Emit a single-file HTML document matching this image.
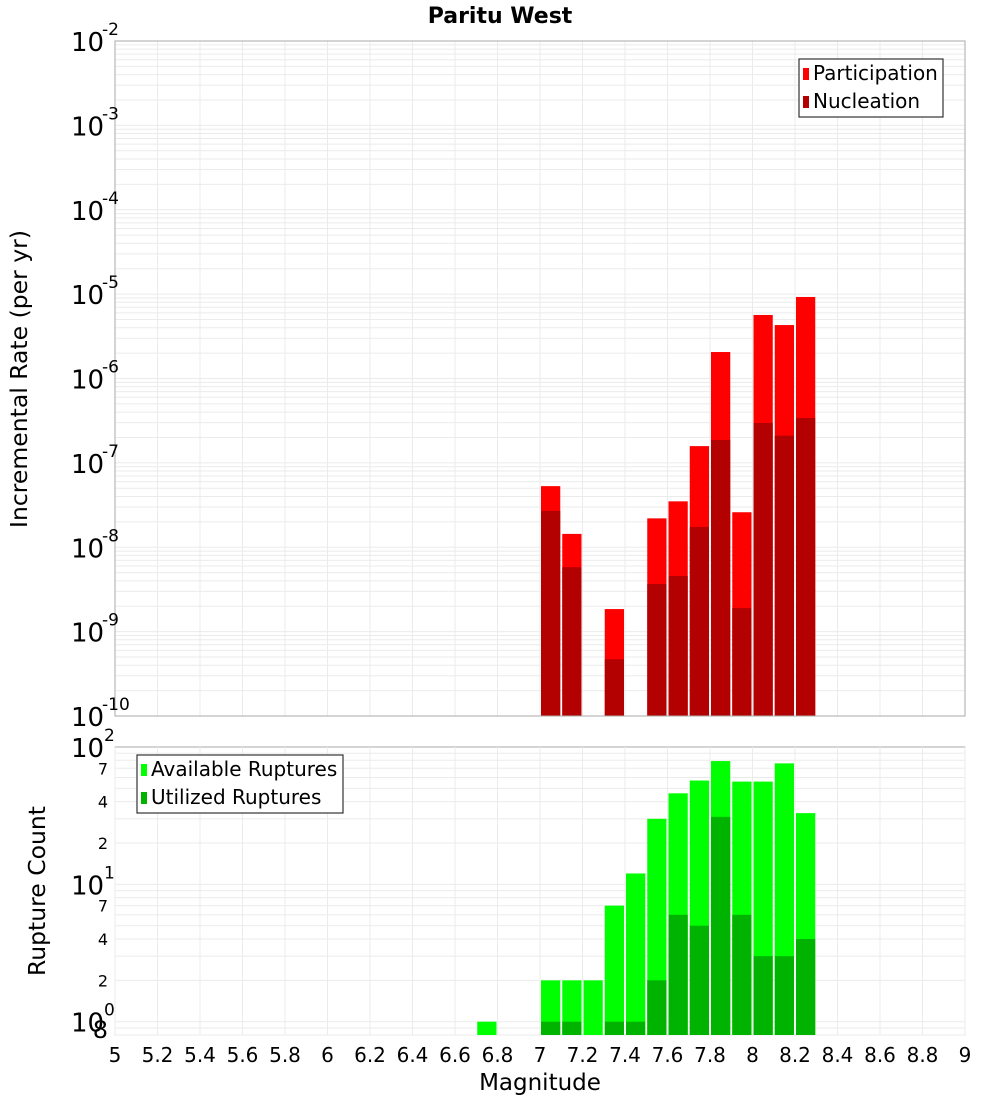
<!DOCTYPE html>
<html><head><meta charset="utf-8"><style>
body{margin:0;background:#fff;}
svg text{font-family:"DejaVu Sans","Liberation Sans",sans-serif;}
</style></head><body>
<svg id="c" width="1000" height="1100" xmlns="http://www.w3.org/2000/svg">
<text x="500" y="23" text-anchor="middle" font-size="22" font-weight="bold">Paritu West</text>
<g id="gtop"></g><g id="gbot"></g>
<text transform="translate(27,379) rotate(-90)" text-anchor="middle" font-size="23.5">Incremental Rate (per yr)</text>
<text transform="translate(45,891) rotate(-90)" text-anchor="middle" font-size="23.5">Rupture Count</text>
<text x="540" y="1090" text-anchor="middle" font-size="23">Magnitude</text>
</svg>
<script>
const mags=[7.0,7.1,7.2,7.3,7.4,7.5,7.6,7.7,7.8,7.9,8.0,8.1,8.2];
const participation=[5.3e-8,1.44e-8,0,1.85e-9,0,2.2e-8,3.5e-8,1.58e-7,2.06e-6,2.6e-8,5.66e-6,4.3e-6,9.25e-6];
const nucleation=[2.7e-8,5.8e-9,0,4.7e-10,0,3.66e-9,4.56e-9,1.74e-8,1.87e-7,1.9e-9,2.97e-7,2.1e-7,3.4e-7];
const countMags=[6.7,7.0,7.1,7.2,7.3,7.4,7.5,7.6,7.7,7.8,7.9,8.0,8.1,8.2];
const available=[1,2,2,2,7,12,30,46,57,79,56,56,76,33];
const utilized=[0,1,1,0,1,1,2,6,5,31,6,3,3,4];
const xTicks=["5","5.2","5.4","5.6","5.8","6","6.2","6.4","6.6","6.8","7","7.2","7.4","7.6","7.8","8","8.2","8.4","8.6","8.8","9"];
const NS="http://www.w3.org/2000/svg";
const L=115,R=965;
const xs=m=>L+(m-5)/4*(R-L);
const T1=41,B1=716,T2=747,B2=1035;
const y1=v=>T1+(-2-Math.log10(v))/8*(B1-T1);
const lmin=Math.log10(0.8);
const y2=v=>T2+(2-Math.log10(v))/(2-lmin)*(B2-T2);
function mk(p,t,a){const e=document.createElementNS(NS,t);for(const k in a)e.setAttribute(k,a[k]);p.appendChild(e);return e;}
const gTop=document.getElementById('gtop'),gBot=document.getElementById('gbot');
function grid(g,T,B,yf,dmin,dmax,minV){
 for(let d=dmin;d<dmax;d++)for(let k=1;k<10;k++){const v=k*Math.pow(10,d);if(v<minV)continue;const y=yf(v);if(y<T||y>B)continue;
  const l=mk(g,'line',{x1:L,x2:R,y1:y,y2:y,stroke:'#ebebeb','stroke-width':1});
  
  }
 xTicks.forEach(t=>{const x=xs(+t);const l=mk(g,'line',{x1:x,x2:x,y1:T,y2:B,stroke:'#ebebeb','stroke-width':1});
  
  });
}
grid(gTop,T1,B1,y1,-10,-2,0);
grid(gBot,T2,B2,y2,-1,2,0.8);
function bars(g,ms,vals,yf,B,color,name){
 ms.forEach((m,i)=>{if(!vals[i])return;const x0=xs(m)+1,x1=xs(m+0.1)-1;const y=yf(vals[i]);
  const r=mk(g,'rect',{x:x0,y:y,width:x1-x0,height:B-y,fill:color});
  
  });
}
bars(gTop,mags,participation,y1,B1,'#ff0000','participation-bar');
bars(gTop,mags,nucleation,y1,B1,'#b30000','nucleation-bar');
bars(gBot,countMags,available,y2,B2,'#00ff00','available-bar');
bars(gBot,countMags,utilized,y2,B2,'#00b300','utilized-bar');
[[T1,B1],[T2,B2]].forEach(([T,B])=>{const r=mk(gTop,'rect',{x:L,y:T,width:R-L,height:B-T,fill:'none',stroke:'#aaa'});
 
 });
for(let d=-2;d>=-10;d--){const y=y1(Math.pow(10,d));
 const t=mk(gTop,'text',{x:71,y:y+10,'font-size':26});t.textContent='10';
 
 
 const s=mk(gTop,'text',{x:102,y:y-6,'font-size':17});s.textContent=String(d);
 
 }
[2,1,0].forEach(d=>{const y=y2(Math.pow(10,d));
 const t=mk(gBot,'text',{x:71,y:y+10,'font-size':26});t.textContent='10';
 
 
 const s=mk(gBot,'text',{x:104,y:y-6,'font-size':17});s.textContent=String(d);
 
 });
[[70,'7'],[40,'4'],[20,'2'],[7,'7'],[4,'4'],[2,'2'],[0.8,'8']].forEach(([v,l])=>{const y=y2(v);
 const t=mk(gBot,'text',{x:108,y:y+(v<1?3:6),'font-size':v<1?24:16,'text-anchor':'end'});t.textContent=l;
 
 });
xTicks.forEach(tk=>{const t=mk(gBot,'text',{x:xs(+tk),y:1062,'font-size':20,'text-anchor':'middle'});t.textContent=tk;
 
 });
function legend(g,x,y,w,items,name){const lg=mk(g,'g',{});
 
 
 mk(lg,'rect',{x:x,y:y,width:w,height:58,fill:'#fff',stroke:'#333','stroke-width':1.2});
 items.forEach(([c,l],i)=>{const sw=mk(lg,'rect',{x:x+4,y:y+9+i*28,width:6,height:12,fill:c});
  
  
  const t=mk(lg,'text',{x:x+14,y:y+21+i*28,'font-size':20});t.textContent=l;
  
  });}
legend(gTop,799,59,144,[['#ff0000','Participation'],['#b30000','Nucleation']],'legend-rate');
legend(gBot,137,755,206,[['#00ff00','Available Ruptures'],['#00b300','Utilized Ruptures']],'legend-count');
</script>
</body></html>
